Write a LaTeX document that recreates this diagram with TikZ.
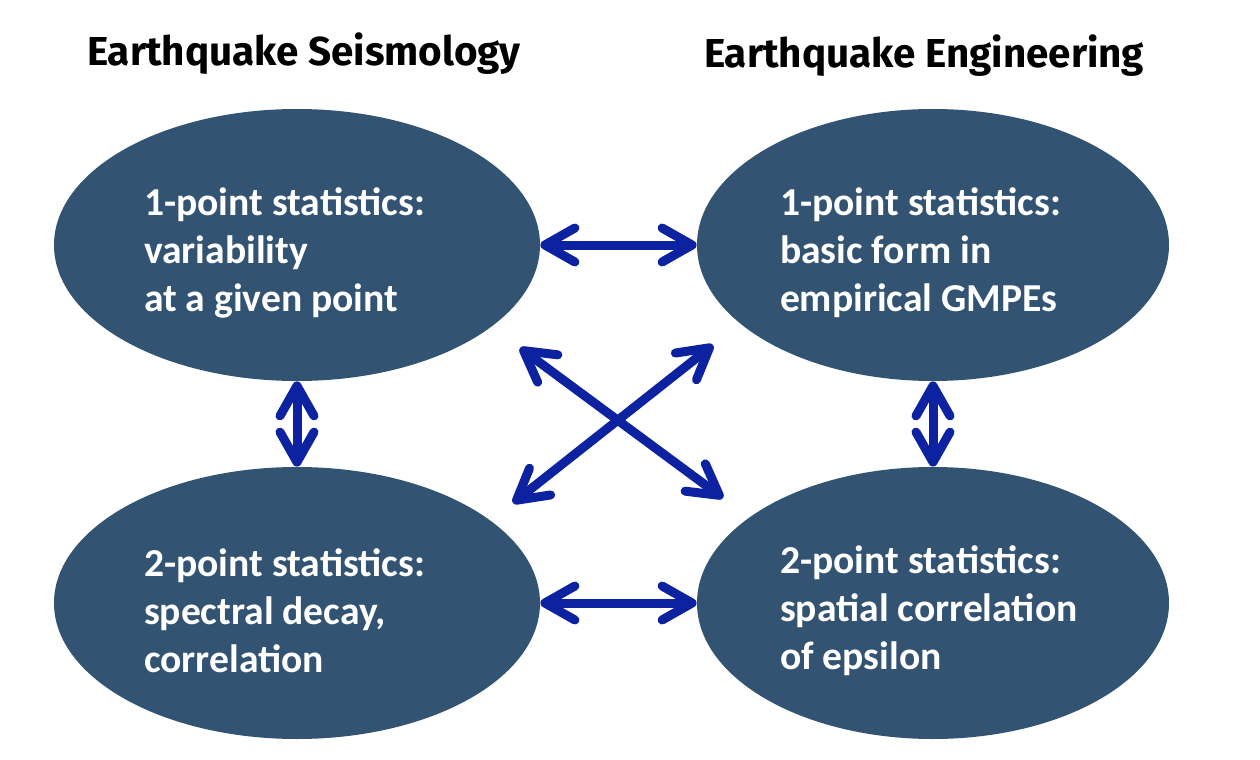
\documentclass[tikz,border=0pt]{standalone}
\usepackage{fontspec}
\setmainfont{Carlito}
\newfontfamily\titlefont{Fira Sans}
\usetikzlibrary{shapes.geometric,arrows.meta}
\definecolor{blobfill}{RGB}{50,83,114}
\definecolor{arrowblue}{RGB}{12,34,160}
\begin{document}
\begin{tikzpicture}[x=0.5pt,y=-0.5pt,
  blob/.style={ellipse,fill=blobfill,text=white,font=\bfseries\fontsize{19.8}{24}\selectfont,
    align=flush left,text width=153pt,inner sep=0pt,minimum height=136pt,
    execute at begin node={\rule{0pt}{22pt}}},
  link/.style={arrowblue,line width=4.5pt,
    {Straight Barb[length=15pt,width=17pt,round]}-{Straight Barb[length=15pt,width=17pt,round]}},
  heading/.style={font=\titlefont\bfseries\fontsize{20.2}{24}\selectfont,anchor=base west}]
  \useasboundingbox (0,0) rectangle (1260,760);
  \node[heading] (seis) at (80,65) {Earthquake Seismology};
  \node[heading] (eng) at (697,68) {Earthquake Engineering};
  \node[blob,minimum width=243pt] (tl) at (297,245) {1-point statistics:\\variability\\at a given point};
  \node[blob,minimum width=236pt] (tr) at (933,245) {1-point statistics:\\basic form in\\empirical GMPEs};
  \node[blob,minimum width=243pt] (bl) at (297,603) {2-point statistics:\\spectral decay,\\correlation};
  \node[blob,minimum width=236pt] (br) at (933,603) {2-point statistics:\\spatial correlation\\of epsilon};
  % the crossing pair floats between the four ellipses
  \coordinate (nw) at (520,348);
  \coordinate (se) at (723,498);
  \coordinate (sw) at (513,503);
  \coordinate (ne) at (713,345);
  \draw[link] (tl) -- (tr);
  \draw[link] (bl) -- (br);
  \draw[link] (tl) -- (bl);
  \draw[link] (tr) -- (br);
  \draw[link] (nw) -- (se);
  \draw[link] (sw) -- (ne);
\end{tikzpicture}
\end{document}
